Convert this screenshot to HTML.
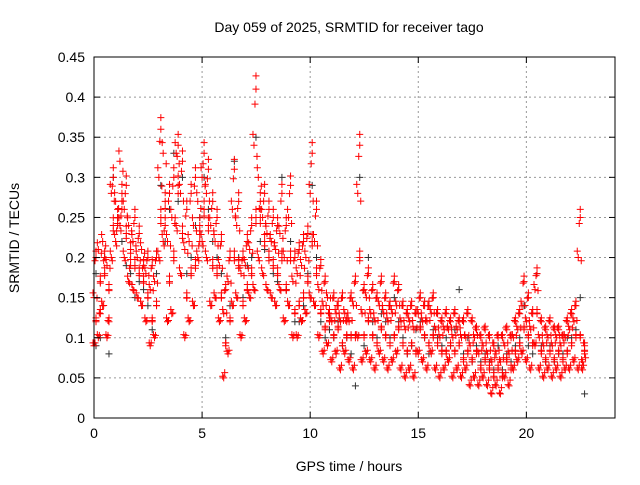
<!DOCTYPE html>
<html><head><meta charset="utf-8"><style>
body{margin:0;background:#fff}
svg text{font-family:"Liberation Sans",sans-serif;font-size:14px;fill:#000}
</style></head><body>
<svg id="chart" width="640" height="480" xmlns="http://www.w3.org/2000/svg">
<rect width="640" height="480" fill="#fff"/>
<text x="349" y="32" text-anchor="middle">Day 059 of 2025, SRMTID for receiver tago</text>
<text x="349" y="471" text-anchor="middle">GPS time / hours</text>
<text transform="translate(19,238) rotate(-90)" text-anchor="middle">SRMTID / TECUs</text>
<g id="grid"></g>
<g id="marks"></g>
<rect x="94" y="57" width="521" height="361" fill="none" stroke="#000" stroke-width="1"/>
<g id="ticks"></g>
</svg>
<script>
const xTicks=[0,5,10,15,20];
const yTicks=[0,0.05,0.1,0.15,0.2,0.25,0.3,0.35,0.4,0.45];
const yTickLabels=["0","0.05","0.1","0.15","0.2","0.25","0.3","0.35","0.4","0.45"];
const colX=[0.0,0.2,0.4,0.6,0.8,1.0,1.2,1.4,1.6,1.8,2.0,2.2,2.4,2.6,2.8,3.0,3.2,3.4,3.6,3.8,4.0,4.2,4.4,4.6,4.8,5.0,5.2,5.4,5.6,5.8,6.0,6.2,6.4,6.6,6.8,7.0,7.2,7.4,7.6,7.8,8.0,8.2,8.4,8.6,8.8,9.0,9.2,9.4,9.6,9.8,10.0,10.2,10.4,10.6,10.8,11.0,11.2,11.4,11.6,11.8,12.0,12.2,12.4,12.6,12.8,13.0,13.2,13.4,13.6,13.8,14.0,14.2,14.4,14.6,14.8,15.0,15.2,15.4,15.6,15.8,16.0,16.2,16.4,16.6,16.8,17.0,17.2,17.4,17.6,17.8,18.0,18.2,18.4,18.6,18.8,19.0,19.2,19.4,19.6,19.8,20.0,20.2,20.4,20.6,20.8,21.0,21.2,21.4,21.6,21.8,22.0,22.2,22.4,22.6,22.8];
const redY=[
[0.09,0.12,0.15,0.2],[0.1,0.17,0.21,0.13],[0.14,0.18,0.22,0.2],[0.1,0.16,0.19,0.12],[0.2,0.24,0.28,0.3],
[0.22,0.25,0.27,0.24],[0.24,0.28,0.32,0.26],[0.2,0.23,0.26,0.29],[0.17,0.21,0.24,0.19],[0.16,0.19,0.22,0.25],
[0.15,0.18,0.2,0.23],[0.14,0.17,0.21,0.19],[0.12,0.15,0.18,0.2],[0.09,0.12,0.16,0.19],[0.1,0.14,0.17,0.2],
[0.2,0.25,0.3,0.36],[0.22,0.27,0.33,0.24],[0.12,0.17,0.22,0.28],[0.13,0.2,0.25,0.3],[0.24,0.29,0.33,0.34],
[0.18,0.23,0.28,0.32],[0.1,0.15,0.21,0.26],[0.12,0.18,0.22,0.28],[0.14,0.19,0.24,0.3],[0.2,0.24,0.27,0.22],
[0.22,0.26,0.3,0.33],[0.2,0.24,0.28,0.31],[0.14,0.19,0.24,0.27],[0.15,0.18,0.22,0.25],[0.12,0.15,0.19,0.22],
[0.05,0.09,0.13,0.16],[0.08,0.12,0.17,0.2],[0.14,0.2,0.26,0.31],[0.15,0.19,0.24,0.27],[0.1,0.14,0.18,0.2],
[0.12,0.16,0.19,0.22],[0.15,0.18,0.21,0.24],[0.16,0.25,0.34,0.41],[0.2,0.25,0.3,0.27],[0.18,0.22,0.25,0.28],
[0.16,0.2,0.23,0.26],[0.15,0.19,0.22,0.25],[0.14,0.18,0.21,0.24],[0.16,0.2,0.23,0.28],[0.12,0.16,0.2,0.24],
[0.14,0.2,0.25,0.29],[0.1,0.13,0.17,0.2],[0.1,0.14,0.18,0.21],[0.12,0.15,0.19,0.22],[0.13,0.17,0.2,0.23],
[0.15,0.22,0.28,0.33],[0.14,0.18,0.22,0.26],[0.1,0.13,0.16,0.19],[0.08,0.11,0.14,0.17],[0.09,0.12,0.15,0.13],
[0.07,0.1,0.12,0.15],[0.08,0.11,0.13,0.14],[0.06,0.09,0.12,0.15],[0.08,0.1,0.13,0.12],[0.07,0.1,0.12,0.15],
[0.06,0.1,0.14,0.17],[0.1,0.2,0.28,0.34],[0.07,0.1,0.13,0.16],[0.08,0.12,0.15,0.18],[0.07,0.1,0.13,0.16],
[0.06,0.09,0.12,0.15],[0.08,0.11,0.14,0.17],[0.07,0.1,0.13,0.15],[0.06,0.09,0.12,0.14],[0.07,0.1,0.13,0.17],
[0.08,0.11,0.14,0.16],[0.06,0.09,0.12,0.14],[0.05,0.08,0.11,0.13],[0.06,0.09,0.12,0.14],[0.05,0.08,0.11,0.13],
[0.08,0.11,0.13,0.15],[0.07,0.1,0.12,0.14],[0.06,0.09,0.12,0.14],[0.08,0.1,0.13,0.15],[0.06,0.09,0.11,0.13],
[0.05,0.08,0.1,0.12],[0.06,0.08,0.11,0.13],[0.07,0.09,0.11,0.12],[0.05,0.08,0.1,0.13],[0.06,0.09,0.11,0.12],
[0.05,0.07,0.1,0.12],[0.06,0.08,0.1,0.13],[0.04,0.07,0.09,0.12],[0.05,0.08,0.1,0.11],[0.04,0.06,0.08,0.1],
[0.05,0.07,0.09,0.11],[0.04,0.06,0.08,0.1],[0.03,0.05,0.07,0.09],[0.04,0.06,0.08,0.1],[0.03,0.05,0.07,0.1],
[0.05,0.07,0.09,0.11],[0.04,0.06,0.08,0.1],[0.06,0.08,0.1,0.12],[0.07,0.09,0.11,0.13],[0.08,0.11,0.14,0.17],
[0.07,0.1,0.12,0.15],[0.06,0.09,0.11,0.13],[0.09,0.13,0.16,0.18],[0.06,0.08,0.1,0.12],[0.05,0.07,0.09,0.11],
[0.06,0.08,0.1,0.12],[0.05,0.07,0.09,0.11],[0.06,0.08,0.1,0.11],[0.05,0.07,0.09,0.1],[0.06,0.08,0.1,0.12],
[0.06,0.09,0.11,0.13],[0.07,0.1,0.12,0.14],[0.06,0.1,0.2,0.25],[0.06,0.08,0.07,0.09]
];
const blackY=[[0.09,0.18],[0.1],[0.2],[0.08],[0.3],[0.25],[0.22],[0.19],[0.18],[0.15],[0.17],[0.16],[0.14],[0.11],[0.18],[0.29],[0.22],[0.26],[0.33],[0.27],[0.3],[0.18],[0.2],[0.24],[0.25],[0.3],[0.26],[0.22],[0.2],[0.18],[0.1],[0.14],[0.32],[0.2],[0.15],[0.19],[0.2],[0.35],[0.22],[0.21],[0.2],[0.18],[0.17],[0.3],[0.16],[0.22],[0.12],[0.12],[0.14],[0.18],[0.29],[0.2],[0.12],[0.1],[0.11],[0.1],[0.12],[0.09],[0.1],[0.08],[0.04],[0.3],[0.09],[0.2],[0.12],[0.1],[0.13],[0.12],[0.1],[0.15],[0.12],[0.1],[0.08],[0.09],[0.11],[0.12],[0.1],[0.08],[0.11],[0.1],[0.09],[0.1],[0.09],[0.11],[0.16],[0.08],[0.1],[0.07],[0.09],[0.07],[0.08],[0.07],[0.06],[0.09],[0.06],[0.08],[0.07],[0.09],[0.1],[0.14],[0.09],[0.08],[0.18],[0.09],[0.07],[0.09],[0.07],[0.08],[0.08],[0.1],[0.1],[0.11],[0.15],[0.03]];

const X0=94,X1=615,Y0=418,Y1=57,XMAX=24.1,YMAX=0.45;
const xs=v=>X0+(X1-X0)*v/XMAX;
const ys=v=>Y0-(Y0-Y1)*v/YMAX;
const NS="http://www.w3.org/2000/svg";
const grid=document.getElementById('grid'),ticks=document.getElementById('ticks'),marks=document.getElementById('marks');
function mk(tag,attrs,parent){const e=document.createElementNS(NS,tag);for(const k in attrs)e.setAttribute(k,attrs[k]);parent.appendChild(e);return e;}
xTicks.forEach(t=>{const x=xs(t);
 if(t>0){const g=mk('line',{x1:x,x2:x,y1:Y0,y2:Y1,stroke:'#999','stroke-dasharray':'2,3'},grid);
 
 }
 mk('line',{x1:x,x2:x,y1:Y0,y2:Y0-6,stroke:'#000'},ticks);
 mk('line',{x1:x,x2:x,y1:Y1,y2:Y1+6,stroke:'#000'},ticks);
 const l=mk('text',{x:x,y:Y0+20,'text-anchor':'middle'},ticks);l.textContent=t;
 
 
});
yTicks.forEach((t,i)=>{const y=ys(t);
 if(i>0&&i<yTicks.length-1){const g=mk('line',{x1:X0,x2:X1,y1:y,y2:y,stroke:'#999','stroke-dasharray':'2,3'},grid);
 
 }
 mk('line',{x1:X0,x2:X0+6,y1:y,y2:y,stroke:'#000'},ticks);
 mk('line',{x1:X1,x2:X1-6,y1:y,y2:y,stroke:'#000'},ticks);
 const l=mk('text',{x:X0-9,y:y+5,'text-anchor':'end'},ticks);l.textContent=yTickLabels[i];
 
 
});
function plus(x,y,color,name,off){
 const cx=xs(x)+off,cy=ys(y);
 const p=mk('path',{d:`M${cx-3.5},${cy}h7M${cx},${cy-3.5}v7`,stroke:color,'stroke-width':1,fill:'none'},marks);
 
 
}
blackY.forEach((arr,i)=>arr.forEach(v=>plus(colX[i],v,'#333','black-point',2)));
redY.forEach((arr,i)=>arr.forEach((v,j)=>{
 plus(colX[i],v,'#ff0000','red-point',(j%2)*2);
 plus(colX[i],v*0.93+0.01,'#ff0000','red-point',1+(j%3));
 plus(colX[i],v*1.04,'#ff0000','red-point',-1+(j%2)*3);
}));
</script>
</body></html>
